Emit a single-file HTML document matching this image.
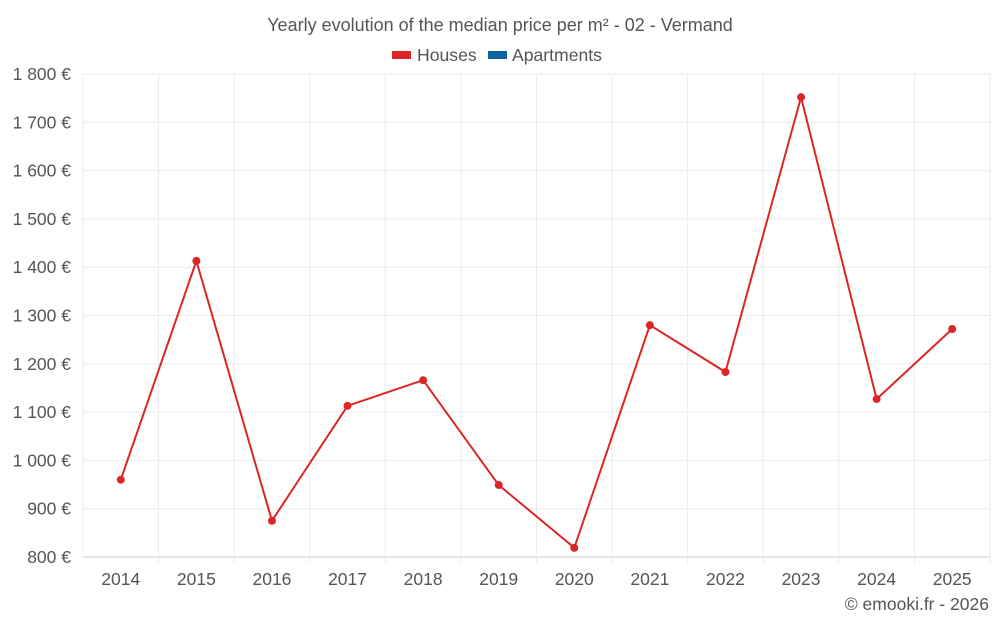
<!DOCTYPE html>
<html><head><meta charset="utf-8"><style>
body{margin:0;background:#fff;font-family:"Liberation Sans",sans-serif;}
svg text{font-family:"Liberation Sans",sans-serif;fill:#555;}
</style></head><body>
<svg id="chart" width="1000" height="625" xmlns="http://www.w3.org/2000/svg">
<text x="500" y="31" text-anchor="middle" font-size="18">Yearly evolution of the median price per m² - 02 - Vermand</text>
<g>
<g><rect x="392" y="51" width="19" height="8" fill="#dc2626"/><text x="417" y="61" font-size="17.6">Houses</text></g>
<g><rect x="488" y="51" width="19" height="8" fill="#0a64a0"/><text x="512" y="61" font-size="17.6">Apartments</text></g>
</g>
<g id="grid"></g><g id="axes"></g><g id="series"></g>
<text x="989" y="610" text-anchor="end" font-size="17.5">© emooki.fr - 2026</text>
</svg>
<script>
const years=["2014","2015","2016","2017","2018","2019","2020","2021","2022","2023","2024","2025"];
const houses=[960,1413,875,1113,1166,949,819,1280,1183,1752,1127,1272];
const yTicks=[800,900,1000,1100,1200,1300,1400,1500,1600,1700,1800];
const L=83,R=990,T=74,B=557,yMin=800,yMax=1800;
const ns="http://www.w3.org/2000/svg";
const bw=(R-L)/years.length;
const xs=i=>L+bw*(i+0.5);
const ys=v=>B-(v-yMin)/(yMax-yMin)*(B-T);
function mk(t,a,p){const e=document.createElementNS(ns,t);for(const k in a)e.setAttribute(k,a[k]);p.appendChild(e);return e;}
const grid=document.getElementById('grid'),axes=document.getElementById('axes'),ser=document.getElementById('series');
const fmt=v=>String(v).replace(/\B(?=(\d{3})+(?!\d))/g,' ')+' €';
yTicks.forEach(v=>{
 const l=mk('line',{x1:L,x2:R,y1:ys(v),y2:ys(v),stroke:v===yMin?'#ccc':'#ebebeb'},grid);
 
 
 const t=mk('text',{x:71,y:ys(v)+6,'text-anchor':'end','font-size':'17.5'},axes);
 t.textContent=fmt(v);
 
 
});
for(let i=0;i<=years.length;i++){
 const l=mk('line',{x1:L+bw*i,x2:L+bw*i,y1:T,y2:B+(i===0?0:6),stroke:'#ebebeb'},grid);
 
 
}
years.forEach((y,i)=>{
 const t=mk('text',{x:xs(i),y:585,'text-anchor':'middle','font-size':'17.5'},axes);
 t.textContent=y;
 
 
});
const pl=mk('polyline',{points:houses.map((v,i)=>xs(i)+','+ys(v)).join(' '),fill:'none',stroke:'#dc2626','stroke-width':2},ser);


houses.forEach((v,i)=>{
 const c=mk('circle',{cx:xs(i),cy:ys(v),r:4,fill:'#dc2626'},ser);
 
 
});
</script>
</body></html>
